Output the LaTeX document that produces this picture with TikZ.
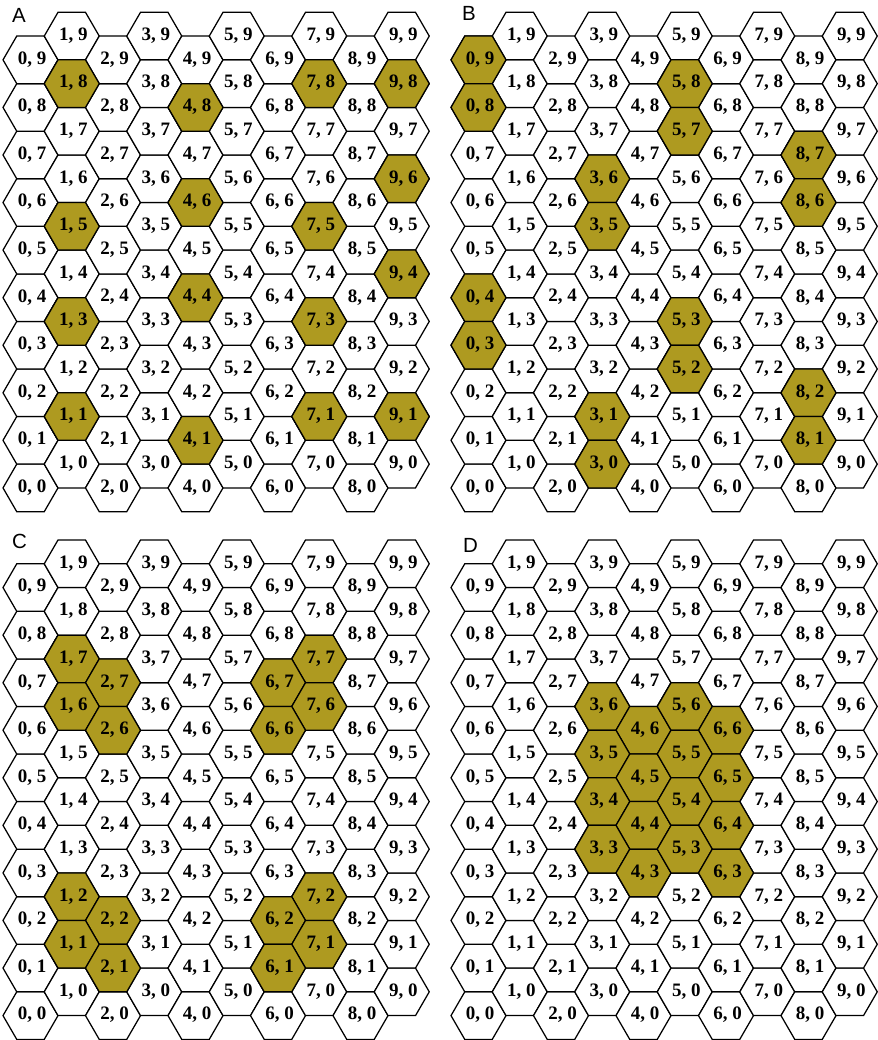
\documentclass[tikz,border=0pt]{standalone}
\usepackage{fontspec}
\setmainfont{Liberation Serif}
\newfontfamily\panelfont{Liberation Sans}
\definecolor{hexgold}{RGB}{174,154,32}
\tikzset{
  hexcell/.style={draw=black, line width=1.25pt, fill=white, line join=miter},
  hexon/.style={hexcell, fill=hexgold},
  celltext/.style={font=\fontsize{19}{19}\selectfont\bfseries, inner sep=0pt},
  paneltag/.style={font=\panelfont\fontsize{20.5}{20.5}\selectfont, anchor=base west, inner sep=0pt}
}
\newcommand\hexpath[2]{(#1+27.5,#2) -- ++(-13.75,23.78) -- ++(-27.5,0) -- ++(-13.75,-23.78) -- ++(13.75,-23.78) -- ++(27.5,0) -- cycle}
\begin{document}
\begin{tikzpicture}[x=1pt,y=1pt]
\useasboundingbox (0,0) rectangle (877,-1040);
\foreach \P/\ox/\oy/\on in {
  A/0/0/{1/8,4/8,7/8,9/8,9/6,4/6,1/5,7/5,9/4,4/4,1/3,7/3,1/1,7/1,9/1,4/1},
  B/448/0/{0/9,0/8,5/8,5/7,8/7,8/6,3/6,3/5,0/4,0/3,5/3,5/2,8/2,8/1,3/1,3/0},
  C/0/527.7/{1/7,2/7,1/6,2/6,7/7,6/7,7/6,6/6,1/2,2/2,1/1,2/1,7/2,6/2,7/1,6/1},
  D/448/527.7/{3/6,4/6,5/6,6/6,3/5,4/5,5/5,6/5,3/4,4/4,5/4,6/4,3/3,4/3,5/3,6/3}}{
  \foreach \c in {0,...,9}{
    \foreach \r in {0,...,9}{
      \pgfmathsetmacro\cx{\ox+30.5+41.25*\c}
      \pgfmathsetmacro\cy{-(\oy+487.9-47.56*\r-23.78*mod(\c,2))}
      \draw[hexcell] \hexpath{\cx}{\cy};
    }
  }
  \foreach \c/\r in \on{
    \pgfmathsetmacro\cx{\ox+30.5+41.25*\c}
    \pgfmathsetmacro\cy{-(\oy+487.9-47.56*\r-23.78*mod(\c,2))}
    \draw[hexon] \hexpath{\cx}{\cy};
  }
  \foreach \c in {0,...,9}{
    \foreach \r in {0,...,9}{
      \pgfmathsetmacro\cx{\ox+30.5+41.25*\c}
      \pgfmathsetmacro\cy{-(\oy+487.9-47.56*\r-23.78*mod(\c,2))}
      \node[celltext] (\P-\c-\r) at (\cx+1.5,\cy+0.5) {\c, \r};
    }
  }
}
\node[paneltag] (tagA) at (12,-23) {A};
\node[paneltag] (tagB) at (462,-21) {B};
\node[paneltag] (tagC) at (12,-548.5) {C};
\node[paneltag] (tagD) at (463,-552) {D};
\end{tikzpicture}
\end{document}
